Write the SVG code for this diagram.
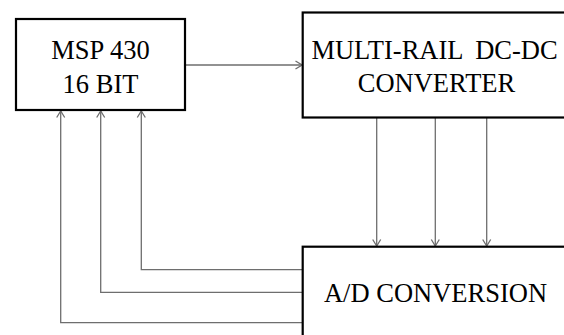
<svg xmlns="http://www.w3.org/2000/svg" width="564" height="335" viewBox="0 0 564 335">
<style>
.box{fill:#fff;stroke:#000;stroke-width:2.2}
.lbl{font-family:"Liberation Serif","Times New Roman",serif;font-size:26.5px;fill:#000;text-anchor:middle}
.wire{fill:none;stroke:#6e6e6e;stroke-width:1.3}
</style>
<defs>
<marker id="ah" viewBox="0 0 10 10" refX="9.5" refY="5" markerWidth="10" markerHeight="10" markerUnits="userSpaceOnUse" orient="auto">
<path d="M3,1 L9.5,5 L3,9" fill="none" stroke="#6e6e6e" stroke-width="1.3"/>
</marker>
</defs>
<rect width="564" height="335" fill="#fff"/>
<g id="connectors">
<line class="wire" x1="186" y1="65" x2="302" y2="65" marker-end="url(#ah)"/>
<line class="wire" x1="376.7" y1="118" x2="376.7" y2="246" marker-end="url(#ah)"/>
<line class="wire" x1="435.3" y1="118" x2="435.3" y2="246" marker-end="url(#ah)"/>
<line class="wire" x1="486.7" y1="118" x2="486.7" y2="246" marker-end="url(#ah)"/>
<polyline class="wire" points="302,269.7 141.3,269.7 141.3,111" marker-end="url(#ah)"/>
<polyline class="wire" points="302,292.3 100.7,292.3 100.7,111" marker-end="url(#ah)"/>
<polyline class="wire" points="302,322.7 60.7,322.7 60.7,111" marker-end="url(#ah)"/>
</g>
<g id="msp430">
<rect class="box" x="16" y="19" width="169" height="91"/>
<text class="lbl" x="100.5" y="59">MSP 430</text>
<text class="lbl" x="100.5" y="92.5">16 BIT</text>
</g>
<g id="dcdc">
<rect class="box" x="302.7" y="12.5" width="270" height="105"/>
<text class="lbl" x="434.5" y="59" word-spacing="6">MULTI-RAIL DC-DC</text>
<text class="lbl" x="436.5" y="91.5">CONVERTER</text>
</g>
<g id="adc">
<rect class="box" x="302.7" y="246.7" width="270" height="100"/>
<text class="lbl" x="435.5" y="301.7">A/D CONVERSION</text>
</g>
</svg>
